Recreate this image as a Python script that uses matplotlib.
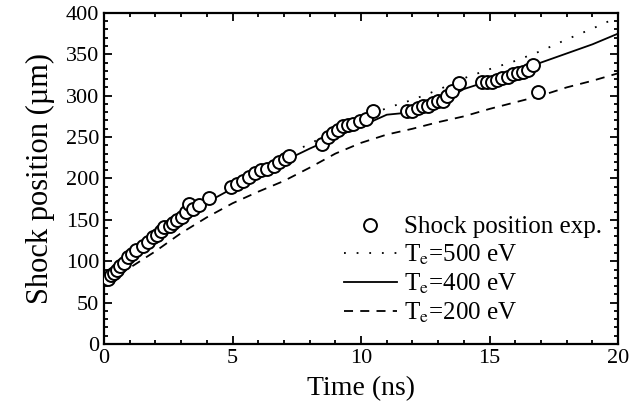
import matplotlib
matplotlib.use("Agg")
import matplotlib.pyplot as plt
from matplotlib.ticker import MultipleLocator

plt.rcParams['font.family'] = ['Liberation Serif', 'DejaVu Serif']
plt.rcParams['mathtext.fontset'] = 'stix'

# measured shock position (circles)
t_exp = [0.16, 0.27, 0.4, 0.5, 0.63, 0.78, 0.94, 1.1, 1.25, 1.5, 1.72, 1.9, 2.05, 2.2,
         2.35, 2.55, 2.7, 2.85, 3.05, 3.2, 3.3, 3.45, 3.7, 4.07, 4.93, 5.17, 5.4, 5.64,
         5.87, 6.1, 6.34, 6.6, 6.8, 7.05, 7.2, 8.5, 8.7, 8.9, 9.1, 9.3, 9.5, 9.7, 9.95,
         10.2, 10.45, 11.8, 12.0, 12.2, 12.4, 12.6, 12.8, 13.0, 13.2, 13.35, 13.55, 13.8,
         14.7, 14.9, 15.1, 15.3, 15.5, 15.7, 15.9, 16.1, 16.3, 16.5, 16.7, 16.9]
x_exp = [79, 83, 86, 90, 94, 98, 105, 109, 113, 118, 123, 129, 132, 137,
         141, 143, 146, 150, 153, 159, 169, 163, 168, 176, 190, 193, 197, 202,
         207, 210, 212, 215, 220, 224, 227, 242, 250, 255, 258, 263, 264, 266, 269,
         272, 281, 281, 282, 285, 287, 288, 291, 293, 294, 300, 306, 315,
         317, 317, 317, 319, 321, 323, 326, 327, 328, 331, 337, 305]

# simulations
t_sim = [0, 1, 2, 3, 4, 5, 6, 7, 8, 9, 10, 11, 12, 13, 14, 15, 16, 17, 18, 19, 20]
x_500 = [78, 104, 132, 156, 176, 193, 210, 226, 242, 257, 272, 285, 295, 307, 321, 332, 342, 354, 368, 381, 395]
x_400 = [75, 100, 127, 150, 171, 188, 205, 221, 236, 250, 263, 277, 280, 290, 308, 318, 328, 340, 351, 362, 375]
x_200 = [75, 92, 112, 134, 153, 170, 184, 197, 213, 230, 243, 253, 260, 268, 275, 284, 292, 300, 310, 318, 327]

fig = plt.figure(figsize=(6.34, 4.15), dpi=100)
ax = fig.add_axes([0.164, 0.171, 0.811, 0.798])

ax.plot(t_exp, x_exp, 'o', ms=9.3, mfc='white', mec='black', mew=1.4,
        label='Shock position exp.', zorder=3)
ax.plot(t_sim, x_500, color='black', lw=1.3, ls=(0, (1, 6)), label=r'T$_\mathrm{e}$=500 eV')
ax.plot(t_sim, x_400, color='black', lw=1.3, ls='-', label=r'T$_\mathrm{e}$=400 eV')
ax.plot(t_sim, x_200, color='black', lw=1.3, ls=(0, (5, 4)), label=r'T$_\mathrm{e}$=200 eV')

ax.set_xlim(0, 20)
ax.set_ylim(0, 400)
ax.xaxis.set_major_locator(MultipleLocator(5))
ax.xaxis.set_minor_locator(MultipleLocator(1))
ax.yaxis.set_major_locator(MultipleLocator(50))
ax.yaxis.set_minor_locator(MultipleLocator(10))
ax.tick_params(which='both', direction='in', top=True, right=True, width=1.3, labelsize=16)
ax.tick_params(which='major', length=6)
ax.tick_params(which='minor', length=3)
for s in ax.spines.values():
    s.set_linewidth(1.6)

ax.set_xlabel('Time (ns)', fontsize=20, labelpad=6)
ax.set_ylabel('Shock position (\u00b5m)', fontsize=22, labelpad=8)

ax.legend(loc='lower right', bbox_to_anchor=(1.003, 0.005), frameon=False, fontsize=18,
          handlelength=2.1, handletextpad=0.3, labelspacing=0.18, borderpad=0.2, numpoints=1)

fig.savefig('out.png', dpi=100)
